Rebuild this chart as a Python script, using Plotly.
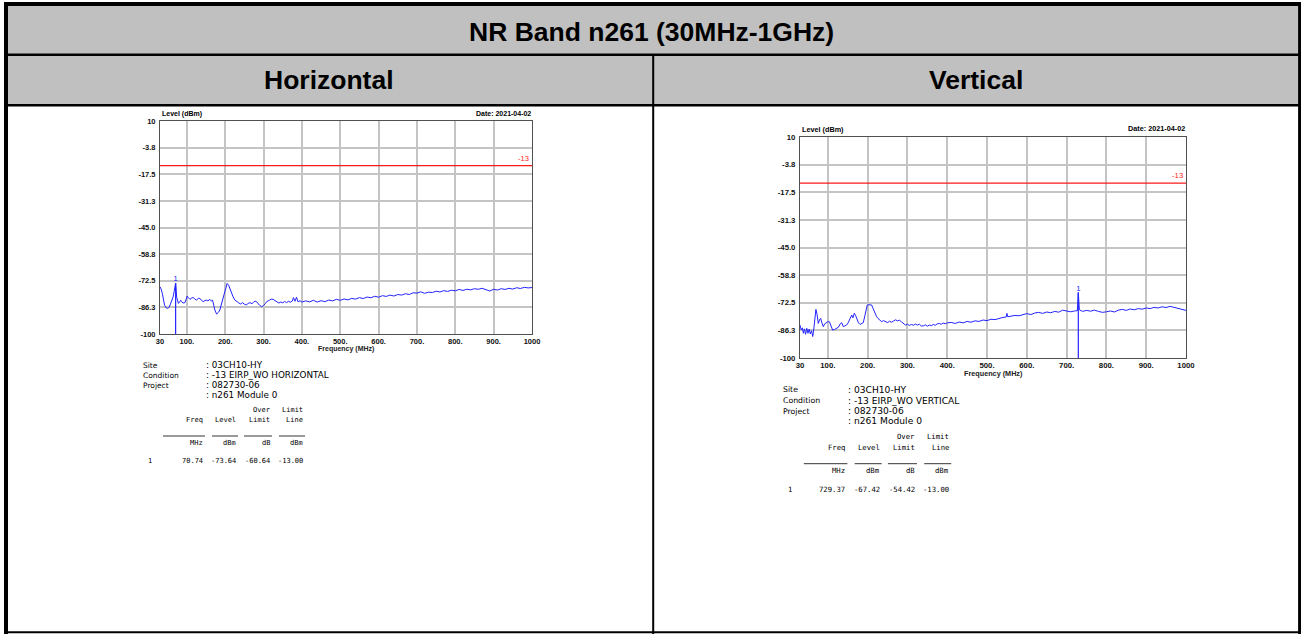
import plotly.graph_objects as go

W, H = 1301, 634

# ---------------- data ----------------
title_text = "NR Band n261 (30MHz-1GHz)"
panel_names = ["Horizontal", "Vertical"]

y_tick_vals = [10, -3.75, -17.5, -31.25, -45, -58.75, -72.5, -86.25, -100]
y_tick_text = ["10", "-3.8", "-17.5", "-31.3", "-45.0", "-58.8", "-72.5", "-86.3", "-100"]
x_tick_vals = [30, 100, 200, 300, 400, 500, 600, 700, 800, 900, 1000]
x_tick_text = ["30", "100.", "200.", "300.", "400.", "500.", "600.", "700.", "800.", "900.", "1000"]

limit_line_dbm = -13
test_date = "2021-04-02"

h_freq = [30, 33, 36, 39, 42, 46, 50, 54, 57, 60.5, 64, 67, 70.74, 73.5, 76, 78, 81, 84, 86.5, 90,
          95, 98, 101, 104, 108, 112, 116.7, 121, 125, 130, 134, 138, 142.6, 147, 151, 155, 160, 164, 167, 170,
          173, 177.6, 182, 186, 190, 195, 200, 205, 209, 213, 216, 220, 225, 229.7,
          235, 240, 245, 250, 255, 260, 265, 270, 275, 280, 285, 290, 295, 300, 305, 308, 315, 320, 325, 330,
          335, 340, 345, 350, 355, 360, 365, 370, 375, 378, 382, 386, 390, 395, 400,
          410, 420, 430, 440, 450, 460, 470, 480, 490, 500, 510, 520, 530, 540, 550, 560, 570, 580, 590, 600,
          610, 620, 630, 640, 650, 660, 670, 680, 690, 700, 710, 720, 730, 740, 750, 760, 770, 780, 790, 800,
          810, 820, 830, 840, 850, 860, 870, 880, 890, 900, 910, 920, 930, 940, 950, 960, 970, 980, 990, 1000]
h_level = [-75.6, -76.8, -79.0, -82.5, -85.2, -86.5, -86.7, -86.2, -84.8, -83.3, -81.0, -78.0, -73.64, -81.0, -83.5, -84.2, -83.5, -82.6, -83.3, -84.0,
           -83.8, -81.5, -80.4, -81.3, -82.1, -81.5, -81.1, -82.0, -82.5, -81.6, -81.6, -82.6, -83.3, -82.7, -82.5, -82.9, -82.1, -83.0, -82.5, -85.0,
           -87.6, -89.7, -88.9, -87.6, -84.5, -80.8, -76.5, -73.9, -74.8, -77.0, -78.2, -80.5, -82.4, -83.3,
           -83.9, -84.5, -83.8, -84.6, -85.0, -84.2, -83.8, -84.4, -83.3, -83.0, -84.3, -85.2, -85.9, -85.3, -84.2, -83.3, -82.6, -82.0, -82.1, -82.9,
           -83.4, -84.0, -83.5, -83.9, -83.2, -83.8, -83.1, -83.6, -83.0, -81.2, -83.1, -81.0, -83.4, -82.8, -83.5,
           -82.9, -83.4, -82.6, -83.5, -82.8, -83.3, -82.5, -82.9, -82.1, -82.6, -81.9, -82.4, -81.6, -82.0, -81.2, -81.7, -80.9, -81.3, -80.5, -81.0,
           -80.2, -80.6, -79.9, -80.4, -79.6, -79.9, -79.2, -79.6, -78.7, -78.9, -78.2, -79.0, -78.4, -78.6, -77.9, -78.3, -77.6, -78.0, -77.4, -77.7,
           -77.0, -77.5, -76.9, -77.2, -76.6, -76.9, -76.4, -77.3, -77.8, -76.9, -77.3, -76.6, -77.0, -76.4, -76.8, -76.1, -76.5, -75.9, -76.2, -76.0]

v_freq = [30, 33, 36, 38.5, 41, 44, 47, 50, 53, 56, 59, 62, 65, 67, 70, 73, 76, 79, 82, 85,
          88.6, 92, 97, 101, 104, 108, 112, 117, 122, 127, 131, 134.7, 139, 143, 147, 151, 155, 158, 160, 163,
          166.5, 170, 173, 177, 181, 185, 189, 193, 196, 199, 203, 206, 210, 214, 218, 222, 226, 231,
          235, 240, 245, 250, 255, 260, 265, 270, 275, 280, 285, 290, 295, 300, 305, 310, 315, 320, 325, 330,
          335, 340, 345, 350, 355, 360, 365, 370, 375, 380, 385, 390, 395, 400,
          410, 420, 430, 440, 450, 460, 470, 480, 490, 500, 510, 520, 530, 540, 548, 550, 552, 560, 570, 580,
          590, 600, 610, 620, 630, 640, 650, 660, 670, 680, 690, 700, 710, 720, 727, 729.37, 732, 740, 750, 760,
          770, 780, 790, 800, 810, 820, 830, 840, 850, 860, 870, 880, 890, 900, 910, 920, 930, 940, 950, 960,
          970, 980, 990, 1000]
v_level = [-83.6, -86.0, -85.0, -87.7, -85.5, -88.2, -85.2, -87.7, -85.6, -88.0, -86.4, -89.3, -85.0, -79.5, -75.8, -78.5, -82.8, -81.0, -80.3, -82.5,
           -84.4, -83.0, -82.4, -81.8, -82.0, -84.6, -86.1, -85.8, -85.3, -84.6, -83.0, -82.4, -84.4, -84.0, -83.6, -82.5, -80.8, -79.5, -78.6, -80.0,
           -77.7, -79.0, -80.6, -82.5, -83.3, -82.8, -82.4, -79.0, -75.5, -73.6, -73.5, -73.7, -73.6, -75.5, -77.7, -79.2, -80.3, -81.3,
           -81.9, -81.4, -82.0, -82.4, -81.7, -82.2, -81.6, -81.0, -81.5, -81.2, -82.0, -83.0, -83.6, -83.2, -83.8, -83.3, -83.7, -83.1, -83.6, -83.2,
           -84.1, -84.0, -83.5, -84.2, -83.6, -83.9, -83.3, -83.7, -83.0, -82.8, -83.2, -82.6, -83.0, -82.5,
           -82.3, -82.8, -82.1, -82.5, -81.8, -82.2, -81.5, -81.8, -81.1, -81.4, -80.7, -80.9, -80.2, -79.8, -79.6, -77.8, -79.5, -79.2, -78.8, -79.0,
           -78.3, -77.9, -78.4, -77.6, -77.3, -77.8, -77.1, -77.5, -76.8, -77.2, -76.2, -76.5, -77.0, -76.6, -76.4, -67.42, -76.0, -76.8, -76.3, -76.7,
           -76.2, -76.8, -77.3, -77.0, -76.6, -77.1, -76.2, -75.8, -76.3, -75.6, -76.0, -75.4, -75.7, -75.1, -75.4, -74.8, -75.1, -74.5, -74.9, -74.3,
           -74.8, -75.5, -76.0, -76.3]

marker_no = ["1", "1"]
marker_freq = [70.74, 729.37]
marker_level = [-73.64, -67.42]
marker_over = [-60.64, -54.42]
marker_limit = [-13.00, -13.00]

site_name = "03CH10-HY"
conditions = ["-13 EIRP_WO HORIZONTAL", "-13 EIRP_WO VERTICAL"]
project_no = "082730-06"
module_name = "n261 Module 0"

# ---------------- layout helpers ----------------
def px(x):
    return x / W

def py(y):
    return 1 - y / H

BLUE = "#2323ff"
RED = "#ff1a1a"
GRID = "#c4c4c4"
FRAME = "#505050"

# plot rectangles (pixel coordinates: left, right, top, bottom) and per-panel scale
plots = [(160, 532, 121, 334), (800, 1186, 137, 358)]
scales = [1.0, 1.038]
text_origin = [(141, 365), (781, 390)]

fig = go.Figure()
annotations = []
shapes = []

def ann(x, y, text, size=8, xanchor="left", yanchor="middle", color="#000000",
        family="DejaVu Sans", weight="normal"):
    annotations.append(dict(x=px(x), y=py(y), xref="paper", yref="paper", text=text,
                            showarrow=False, xanchor=xanchor, yanchor=yanchor,
                            font=dict(size=size, color=color, family=family, weight=weight)))

traces = [(h_freq, h_level), (v_freq, v_level)]
for i, (fx, lv) in enumerate(traces):
    xa = "x" if i == 0 else "x2"
    ya = "y" if i == 0 else "y2"
    fig.add_trace(go.Scatter(x=fx, y=lv, mode="lines", line=dict(color=BLUE, width=1),
                             xaxis=xa, yaxis=ya, showlegend=False, hoverinfo="skip"))
    # limit line
    fig.add_trace(go.Scatter(x=[x_tick_vals[0], x_tick_vals[-1]], y=[limit_line_dbm, limit_line_dbm],
                             mode="lines", line=dict(color=RED, width=1.2),
                             xaxis=xa, yaxis=ya, showlegend=False, hoverinfo="skip"))
    # marker drop line
    fig.add_trace(go.Scatter(x=[marker_freq[i], marker_freq[i]], y=[marker_level[i], y_tick_vals[-1]],
                             mode="lines+text", line=dict(color=BLUE, width=1.2),
                             text=[marker_no[i], ""], textposition="top center",
                             textfont=dict(size=7.5 * scales[i], color=BLUE, family="Liberation Sans"),
                             xaxis=xa, yaxis=ya, showlegend=False, hoverinfo="skip"))

layout_axes = {}
for i, (l, r, t, b) in enumerate(plots):
    s = scales[i]
    sx = "" if i == 0 else "2"
    axis_common = dict(showgrid=True, gridcolor=GRID, gridwidth=1.5, showline=True, linecolor=FRAME,
                       linewidth=1, mirror=True, ticks="", zeroline=False, automargin=False,
                       tickfont=dict(size=7.5 * s, family="Liberation Sans", color="#111111", weight="bold"))
    layout_axes["xaxis" + sx] = dict(domain=[px(l), px(r)], range=[30, 1000], anchor="y" + sx,
                                     tickvals=x_tick_vals, ticktext=x_tick_text, ticklabelstandoff=0,
                                     **axis_common)
    layout_axes["yaxis" + sx] = dict(domain=[py(b), py(t)], range=[-100, 10], anchor="x" + sx,
                                     tickvals=y_tick_vals, ticktext=y_tick_text, ticklabelstandoff=2,
                                     **axis_common)
    # chart texts
    ann(l, t - 1, "Level (dBm)", size=7 * s, yanchor="bottom", family="Liberation Sans", weight="bold")
    ann(r + 1, t - 2, "Date: " + test_date, size=7 * s, xanchor="right", yanchor="bottom",
        family="Liberation Sans", weight="bold")
    ann((l + r) / 2, b + 15 * s, "Frequency (MHz)", size=7 * s, xanchor="center",
        family="Liberation Sans", weight="bold", color="#222222")
    ann(r - 1, t + (b - t) * (10 - limit_line_dbm) / 110 - 1, str(limit_line_dbm), size=7.5 * s,
        xanchor="right", yanchor="bottom", color=RED, family="Liberation Sans")

    # text block
    ox, oy = text_origin[i]
    tf = "DejaVu Sans"
    ann(ox, oy, "Site", size=7.5 * s, family=tf)
    ann(ox, oy + 10.3 * s, "Condition", size=7.5 * s, family=tf)
    ann(ox, oy + 20.3 * s, "Project", size=7.5 * s, family=tf)
    ann(ox + 63 * s, oy, ": " + site_name, size=8.8 * s, family=tf)
    ann(ox + 63 * s, oy + 10.3 * s, ": " + conditions[i], size=8.8 * s, family=tf)
    ann(ox + 63 * s, oy + 20.3 * s, ": " + project_no, size=8.8 * s, family=tf)
    ann(ox + 63 * s, oy + 30 * s, ": " + module_name, size=8.8 * s, family=tf)

    mf = "DejaVu Sans Mono"
    cols = [ox + 64 * s, ox + 97 * s, ox + 131 * s, ox + 164 * s]
    hdr1 = ["", "", "Over", "Limit"]
    hdr2 = ["Freq", "Level", "Limit", "Line"]
    units = ["MHz", "dBm", "dB", "dBm"]
    vals = ["%.2f" % marker_freq[i], "%.2f" % marker_level[i], "%.2f" % marker_over[i], "%.2f" % marker_limit[i]]
    widths = [42, 26, 28, 26]
    for c in range(4):
        if hdr1[c]:
            ann(cols[c], oy + 45 * s, hdr1[c], size=7 * s, xanchor="right", family=mf)
        ann(cols[c], oy + 55 * s, hdr2[c], size=7 * s, xanchor="right", family=mf)
        ann(cols[c], oy + 77.5 * s, units[c], size=7 * s, xanchor="right", family=mf)
        ann(cols[c], oy + 96 * s, vals[c], size=7 * s, xanchor="right", family=mf)
        shapes.append(dict(type="line", xref="paper", yref="paper",
                           x0=px(cols[c] - widths[c] * s), x1=px(cols[c]),
                           y0=py(oy + 71 * s), y1=py(oy + 71 * s),
                           line=dict(color="#000000", width=0.8)))
    ann(ox + 9 * s, oy + 96 * s, marker_no[i], size=7 * s, xanchor="center", family=mf)

# ---------------- table frame ----------------
shapes.insert(0, dict(type="rect", xref="paper", yref="paper", x0=px(6), x1=px(1299), y0=py(55), y1=py(4),
                      fillcolor="#c0c0c0", line=dict(width=0), layer="below"))
shapes.insert(0, dict(type="rect", xref="paper", yref="paper", x0=px(6), x1=px(1299), y0=py(105), y1=py(55),
                      fillcolor="#c0c0c0", line=dict(width=0), layer="below"))

def hline(y, x0, x1, w):
    shapes.append(dict(type="line", xref="paper", yref="paper", x0=px(x0), x1=px(x1), y0=py(y), y1=py(y),
                       line=dict(color="#000000", width=w)))

def vline(x, y0, y1, w):
    shapes.append(dict(type="line", xref="paper", yref="paper", x0=px(x), x1=px(x), y0=py(y0), y1=py(y1),
                       line=dict(color="#000000", width=w)))

hline(4, 4, 1301, 4)
hline(54.8, 4, 1301, 2.5)
hline(105.2, 4, 1301, 2.5)
hline(632.2, 4, 1301, 2)
vline(6, 2, 634, 4)
vline(1299.6, 2, 634, 3)
vline(653.2, 54, 634, 2)

ann(651, 31.5, title_text, size=26.5, xanchor="center", family="Liberation Sans", weight="bold")
ann(329, 80.5, panel_names[0], size=26.5, xanchor="center", family="Liberation Sans", weight="bold")
ann(976, 80.5, panel_names[1], size=26.5, xanchor="center", family="Liberation Sans", weight="bold")

fig.update_layout(width=W, height=H, margin=dict(l=0, r=0, t=0, b=0),
                  paper_bgcolor="white", plot_bgcolor="white",
                  annotations=annotations, shapes=shapes, showlegend=False, **layout_axes)

fig.write_html("out.html", config={"displayModeBar": False, "responsive": False},
               post_script="document.body.style.margin='0';document.body.style.overflow='hidden';")
